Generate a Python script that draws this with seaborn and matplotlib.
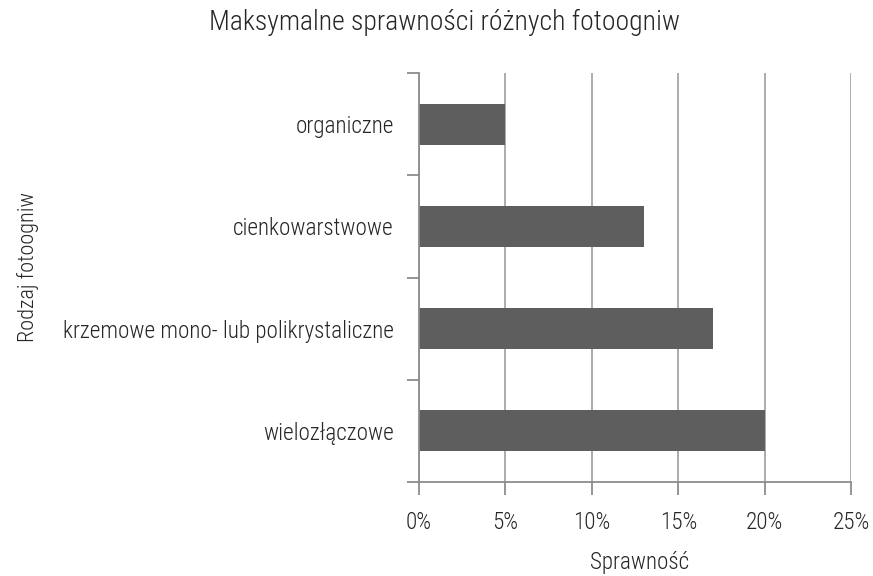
import matplotlib
matplotlib.use("Agg")
import matplotlib.pyplot as plt
from matplotlib.ticker import FixedLocator, PercentFormatter
import seaborn as sns
import pandas as pd

categories = ["organiczne", "cienkowarstwowe",
              "krzemowe mono- lub polikrystaliczne", "wielozłączowe"]
efficiency = [5, 13, 17, 20]
x_ticks = [0, 5, 10, 15, 20, 25]

df = pd.DataFrame({"rodzaj": categories, "sprawnosc": efficiency})

sns.set_style("white")
plt.rcParams["font.family"] = ["Roboto Condensed", "DejaVu Sans"]
plt.rcParams["font.weight"] = 300
plt.rcParams["text.color"] = "#262626"

fig = plt.figure(figsize=(8.73, 5.76), dpi=100)
ax = fig.add_axes([419 / 873, 1 - 482 / 576, 432 / 873, 409 / 576])

sns.barplot(data=df, x="sprawnosc", y="rodzaj", order=categories,
            color="#5e5e5e", saturation=1, width=0.4, edgecolor="none", ax=ax)

ax.set_xlim(0, 25)
ax.set_ylim(len(categories) - 0.5, -0.5)
ax.xaxis.set_major_locator(FixedLocator(x_ticks))
ax.xaxis.set_major_formatter(PercentFormatter(decimals=0))
ax.grid(axis="x", color="#a6a6a6", linewidth=1.3)
ax.set_axisbelow(True)

# category boundaries get the tick marks, labels sit in between
ax.yaxis.set_major_locator(FixedLocator([i - 0.5 for i in range(len(categories) + 1)]))
ax.yaxis.set_minor_locator(FixedLocator(range(len(categories))))
ax.set_yticklabels([], minor=False)
ax.set_yticklabels(categories, minor=True)
ax.tick_params(axis="y", which="major", length=9, width=1.3, color="#8c8c8c", left=True)
ax.tick_params(axis="y", which="minor", length=0, pad=18, labelsize=16.7, labelcolor="#262626")
ax.tick_params(axis="x", length=9, width=1.3, color="#8c8c8c", bottom=True,
               pad=12, labelsize=16.7, labelcolor="#262626")

for s in ["top", "right"]:
    ax.spines[s].set_visible(False)
for s in ["left", "bottom"]:
    ax.spines[s].set_color("#8c8c8c")
    ax.spines[s].set_linewidth(1.3)

ax.set_xlabel("")
ax.set_ylabel("")
fig.text(445 / 873, 1 - 22 / 576, "Maksymalne sprawności różnych fotoogniw",
         ha="center", va="center", fontsize=20)
fig.text(640 / 873, 1 - 569 / 576, "Sprawność", ha="center", va="baseline", fontsize=16.7)
fig.text(28 / 873, 1 - 267 / 576, "Rodzaj fotoogniw", ha="center", va="center",
         rotation=90, fontsize=16)

fig.savefig("out.png", dpi=100)
